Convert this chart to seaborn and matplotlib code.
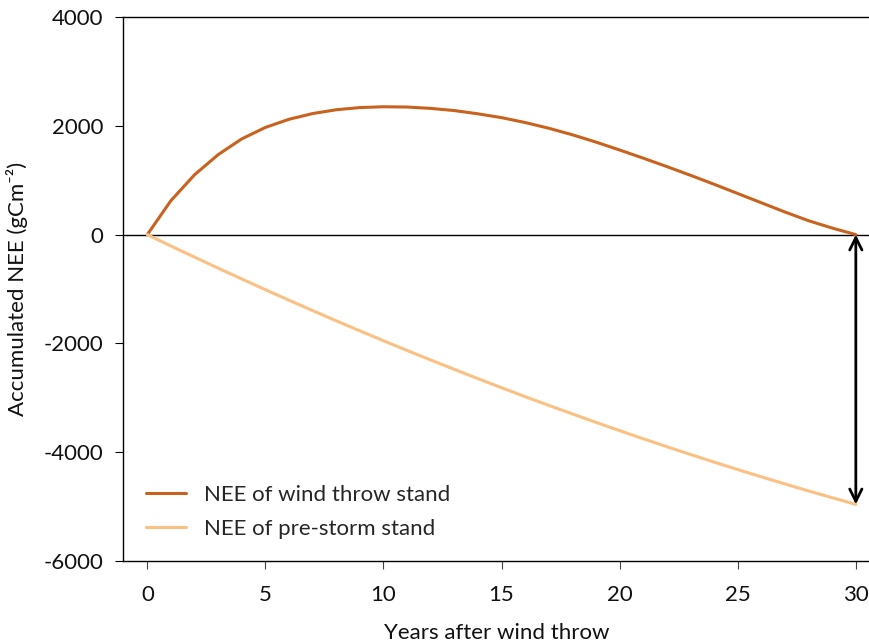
import numpy as np
import pandas as pd
import matplotlib
matplotlib.use("Agg")
import matplotlib.pyplot as plt
import seaborn as sns

years = list(range(0, 31))
wind_throw = [0, 625, 1100, 1470, 1760, 1970, 2120, 2225, 2295, 2335, 2350,
              2345, 2320, 2280, 2220, 2150, 2060, 1955, 1835, 1700, 1555,
              1405, 1250, 1090, 925, 755, 585, 415, 255, 120, 0]
pre_storm = [0, -210, -414, -617, -816, -1013, -1206, -1397, -1585, -1769, -1951,
             -2130, -2305, -2478, -2648, -2815, -2979, -3139, -3297, -3452, -3604,
             -3753, -3899, -4042, -4182, -4319, -4453, -4584, -4712, -4837, -4959]
series_names = ["NEE of wind throw stand", "NEE of pre-storm stand"]
colors = ["#C8621E", "#FBC083"]
x_ticks = [0, 5, 10, 15, 20, 25, 30]
y_ticks = [4000, 2000, 0, -2000, -4000, -6000]

df = pd.DataFrame({
    "year": years * 2,
    "nee": wind_throw + pre_storm,
    "series": [series_names[0]] * len(years) + [series_names[1]] * len(years),
})

sns.set_style("white")
plt.rcParams["font.family"] = ["Lato", "DejaVu Sans"]

fig = plt.figure(figsize=(8.7, 6.44), dpi=100)
ax = fig.add_axes([123 / 870, 83 / 644, 1 - 123 / 870, (561 - 17) / 644])

sns.lineplot(data=df, x="year", y="nee", hue="series", hue_order=series_names,
             palette=colors, linewidth=2.2, ax=ax, legend=True)

ax.axhline(0, color="black", linewidth=1.0, zorder=1)

ax.annotate("", xy=(30, pre_storm[-1]), xytext=(30, wind_throw[-1]),
            arrowprops=dict(arrowstyle="<->", color="black", lw=2,
                            shrinkA=0, shrinkB=0, mutation_scale=22))

ax.set_xlim(-1.03, 30.6)
ax.set_ylim(-6000, 4000)
ax.set_xticks(x_ticks)
ax.set_yticks(y_ticks)
ax.set_xticklabels([str(t) for t in x_ticks])
ax.set_yticklabels([str(t) for t in y_ticks])

for side in ["left", "top", "bottom"]:
    ax.spines[side].set_visible(True)
    ax.spines[side].set_color("black")
    ax.spines[side].set_linewidth(1.0)
ax.spines["right"].set_visible(False)

ax.tick_params(axis="x", which="both", bottom=True, length=6, width=0.8,
               color="#444444", labelsize=16, pad=11, labelcolor="#111111")
ax.tick_params(axis="y", which="both", left=True, length=6, width=0.8,
               color="black", labelsize=16, pad=8, labelcolor="#111111")

ax.set_xlabel("Years after wind throw", fontsize=16, labelpad=13, color="#111111")
ax.set_ylabel("Accumulated NEE (gCm\u207b\u00b2)", fontsize=16, labelpad=11,
              color="#111111")

leg = ax.legend(loc="lower left", bbox_to_anchor=(0.0193, 0.025), frameon=False,
                fontsize=16, handlelength=1.8, handletextpad=0.8,
                labelspacing=0.6, borderaxespad=0.0)
for line in leg.get_lines():
    line.set_linewidth(2.2)

fig.savefig("out.png", dpi=100)
